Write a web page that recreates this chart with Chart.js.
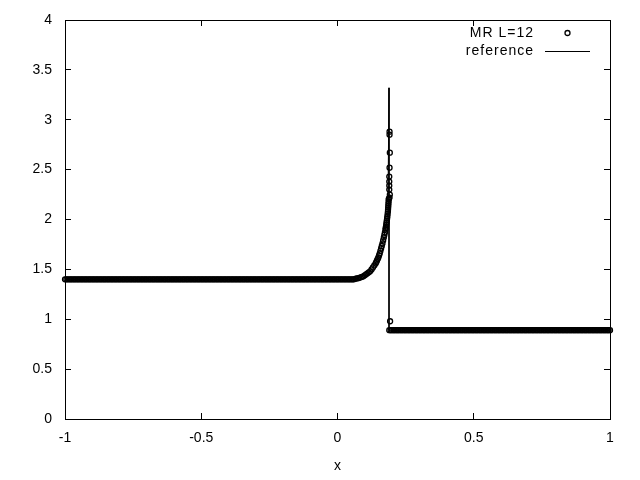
<!DOCTYPE html>
<html>
<head>
<meta charset="utf-8">
<script src="https://cdn.jsdelivr.net/npm/chart.js@4/dist/chart.umd.min.js"></script>
<style>
html,body{margin:0;padding:0;background:#fff;}
canvas{display:block;}
</style>
</head>
<body>
<canvas id="c" width="640" height="480"></canvas>
<script>
// ---- data ----
const xTicks = [-1, -0.5, 0, 0.5, 1];
const yTicks = [0, 0.5, 1, 1.5, 2, 2.5, 3, 3.5, 4];

// MR L=12: left constant state (x positions), level
const leftLevel = 1.4;
const leftX = [
-1,-.995,-.99,-.985,-.98,-.975,-.97,-.965,-.96,-.955,
-.95,-.945,-.94,-.935,-.93,-.925,-.92,-.915,-.91,-.905,
-.9,-.895,-.89,-.885,-.88,-.875,-.87,-.865,-.86,-.855,
-.85,-.845,-.84,-.835,-.83,-.825,-.82,-.815,-.81,-.805,
-.8,-.795,-.79,-.785,-.78,-.775,-.77,-.765,-.76,-.755,
-.75,-.745,-.74,-.735,-.73,-.725,-.72,-.715,-.71,-.705,
-.7,-.695,-.69,-.685,-.68,-.675,-.67,-.665,-.66,-.655,
-.65,-.645,-.64,-.635,-.63,-.625,-.62,-.615,-.61,-.605,
-.6,-.595,-.59,-.585,-.58,-.575,-.57,-.565,-.56,-.555,
-.55,-.545,-.54,-.535,-.53,-.525,-.52,-.515,-.51,-.505,
-.5,-.495,-.49,-.485,-.48,-.475,-.47,-.465,-.46,-.455,
-.45,-.445,-.44,-.435,-.43,-.425,-.42,-.415,-.41,-.405,
-.4,-.395,-.39,-.385,-.38,-.375,-.37,-.365,-.36,-.355,
-.35,-.345,-.34,-.335,-.33,-.325,-.32,-.315,-.31,-.305,
-.3,-.295,-.29,-.285,-.28,-.275,-.27,-.265,-.26,-.255,
-.25,-.245,-.24,-.235,-.23,-.225,-.22,-.215,-.21,-.205,
-.2,-.195,-.19,-.185,-.18,-.175,-.17,-.165,-.16,-.155,
-.15,-.145,-.14,-.135,-.13,-.125,-.12,-.115,-.11,-.105,
-.1,-.095,-.09,-.085,-.08,-.075,-.07,-.065,-.06,-.055,
-.05,-.045,-.04,-.035,-.03,-.025,-.02,-.015,-.01,-.005,
0,.005,.01,.015,.02,.025,.03,.035,.04,.045,
.05,.055,.06
];

// MR L=12: rising profile before the shock
const curveX = [
.065,.07,.075,.08,.085,.09,.095,.1,.105,.11,.115,.12,.125,.13,.135,
.14,.1425,.145,.1475,.15,.1525,.155,.1575,.16,.1625,.165,.1675,
.17,.172,.174,.176,.177,.178,.179,.18,.181,.182,.183,.184,.185,.1855,.186,.1865,.187,.1875,.188,.1885,
.191,.192,.19,.19,.19,.19,.191,.192,.191,.191,.193
];
const curveY = [
1.405,1.41,1.41,1.415,1.42,1.425,1.43,1.44,1.45,1.46,1.47,1.48,1.5,1.52,1.54,
1.56,1.575,1.59,1.605,1.62,1.64,1.66,1.685,1.71,1.735,1.76,1.79,
1.82,1.845,1.87,1.9,1.915,1.93,1.95,1.97,1.99,2.01,2.03,2.055,2.08,2.1,2.12,2.14,2.16,2.18,2.2,2.21,
2.22,2.25,2.3,2.34,2.38,2.43,2.52,2.67,2.85,2.88,0.98
];

// MR L=12: right constant state
const rightLevel = 0.89;
const rightX = [
.19,.195,
.2,.205,.21,.215,.22,.225,.23,.235,.24,.245,
.25,.255,.26,.265,.27,.275,.28,.285,.29,.295,
.3,.305,.31,.315,.32,.325,.33,.335,.34,.345,
.35,.355,.36,.365,.37,.375,.38,.385,.39,.395,
.4,.405,.41,.415,.42,.425,.43,.435,.44,.445,
.45,.455,.46,.465,.47,.475,.48,.485,.49,.495,
.5,.505,.51,.515,.52,.525,.53,.535,.54,.545,
.55,.555,.56,.565,.57,.575,.58,.585,.59,.595,
.6,.605,.61,.615,.62,.625,.63,.635,.64,.645,
.65,.655,.66,.665,.67,.675,.68,.685,.69,.695,
.7,.705,.71,.715,.72,.725,.73,.735,.74,.745,
.75,.755,.76,.765,.77,.775,.78,.785,.79,.795,
.8,.805,.81,.815,.82,.825,.83,.835,.84,.845,
.85,.855,.86,.865,.87,.875,.88,.885,.89,.895,
.9,.905,.91,.915,.92,.925,.93,.935,.94,.945,
.95,.955,.96,.965,.97,.975,.98,.985,.99,.995,
1
];

// reference solution (line)
const refX = [-1, .06, .1, .12, .14, .16, .17, .18, .185, .189, .189, 1];
const refY = [1.4, 1.4, 1.44, 1.48, 1.56, 1.71, 1.82, 1.97, 2.08, 3.32, 0.89, 0.89];

const seriesLabels = ['MR L=12', 'reference'];

// ---- build datasets ----
const mrData = []
  .concat(leftX.map(x => ({x: x, y: leftLevel})))
  .concat(curveX.map((x, i) => ({x: x, y: curveY[i]})))
  .concat(rightX.map(x => ({x: x, y: rightLevel})));
const refData = refX.map((x, i) => ({x: x, y: refY[i]}));

const FONT = {family: '"Liberation Sans", Arial, sans-serif', size: 14};
const INK = '#000';

const gnuplotKey = {
  id: 'gnuplotKey',
  afterDraw(chart) {
    const ctx = chart.ctx;
    const ds = chart.data.datasets;
    ctx.save();
    ctx.font = FONT.size + 'px ' + FONT.family;
    try { ctx.letterSpacing = '1px'; } catch (e) {}
    ctx.fillStyle = INK;
    ctx.textAlign = 'right';
    ctx.textBaseline = 'middle';
    const textRight = 534, rowY = [33, 51];
    ds.forEach((d, i) => {
      ctx.fillText(d.label, textRight, rowY[i]);
      ctx.strokeStyle = d.borderColor;
      ctx.lineWidth = d.borderWidth;
      if (d.showLine) {
        ctx.beginPath();
        ctx.moveTo(545, rowY[i] + 0.5);
        ctx.lineTo(590, rowY[i] + 0.5);
        ctx.stroke();
      } else {
        ctx.beginPath();
        ctx.arc(567.5, rowY[i], d.pointRadius, 0, Math.PI * 2);
        ctx.stroke();
      }
    });
    ctx.restore();
  }
};

const fmt = v => String(v);
const noPadH = s => { s.paddingLeft = 0; s.paddingRight = 0; };
const noPadV = s => { s.paddingTop = 0; s.paddingBottom = 0; };

const axisCommon = {
  type: 'linear',
  grid: {drawOnChartArea: false, tickLength: -6, color: INK, lineWidth: 1},
  border: {color: INK, width: 1}
};

new Chart(document.getElementById('c'), {
  type: 'scatter',
  data: {
    datasets: [
      {
        label: seriesLabels[0], data: mrData,
        pointStyle: 'circle', pointRadius: 2.5, pointHoverRadius: 2.5,
        borderWidth: 1.3, borderColor: INK, backgroundColor: 'rgba(0,0,0,0)',
        showLine: false, clip: false, order: 1
      },
      {
        label: seriesLabels[1], data: refData,
        showLine: true, pointRadius: 0, borderColor: INK, borderWidth: 1,
        backgroundColor: INK, fill: false, tension: 0, order: 0
      }
    ]
  },
  options: {
    responsive: false,
    animation: false,
    devicePixelRatio: 1,
    layout: {padding: 0},
    plugins: {legend: {display: false}, tooltip: {enabled: false}},
    scales: {
      x: Object.assign({}, axisCommon, {
        position: 'bottom', min: -1, max: 1,
        afterBuildTicks: s => { s.ticks = xTicks.map(v => ({value: v})); },
        ticks: {padding: 17, font: FONT, color: INK, maxRotation: 0, autoSkip: false, callback: fmt},
        title: {display: true, text: 'x', font: FONT, color: INK, padding: {top: 0, bottom: 5}},
        afterFit: s => { s.height = 61; noPadH(s); }
      }),
      x2: Object.assign({}, axisCommon, {
        position: 'top', min: -1, max: 1,
        afterBuildTicks: s => { s.ticks = xTicks.map(v => ({value: v})); },
        ticks: {display: false},
        afterFit: s => { s.height = 20; noPadH(s); }
      }),
      y: Object.assign({}, axisCommon, {
        position: 'left', min: 0, max: 4,
        afterBuildTicks: s => { s.ticks = yTicks.map(v => ({value: v})); },
        ticks: {padding: 19, font: FONT, color: INK, autoSkip: false, callback: fmt},
        afterFit: s => { s.width = 65; noPadV(s); }
      }),
      y2: Object.assign({}, axisCommon, {
        position: 'right', min: 0, max: 4,
        afterBuildTicks: s => { s.ticks = yTicks.map(v => ({value: v})); },
        ticks: {display: false},
        afterFit: s => { s.width = 30; noPadV(s); }
      })
    }
  },
  plugins: [gnuplotKey]
});
</script>
</body>
</html>
